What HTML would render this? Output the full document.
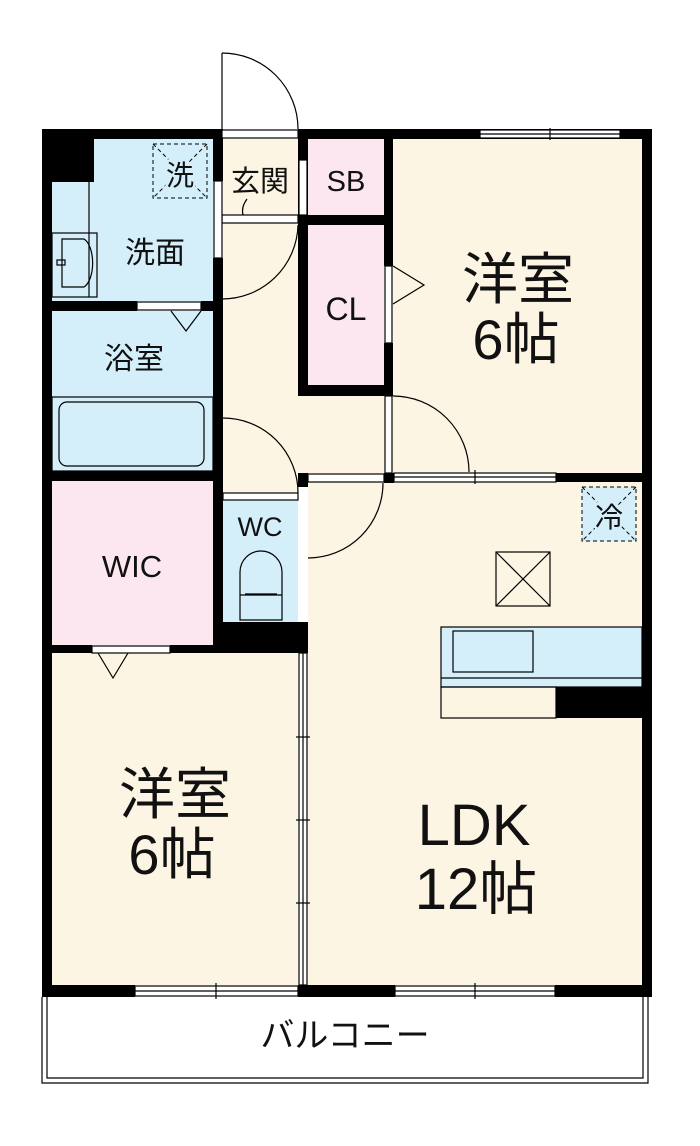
<!DOCTYPE html>
<html><head><meta charset="utf-8"><style>
html,body{margin:0;padding:0;background:#fff;}
svg{display:block;}
text{font-family:"Liberation Sans","Noto Sans CJK JP",sans-serif;fill:#111;}
</style></head><body>
<svg width="700" height="1146" viewBox="0 0 700 1146" xmlns="http://www.w3.org/2000/svg">
<rect x="52" y="139" width="161" height="162" fill="#d4eefa"/>
<rect x="52" y="311" width="161" height="160" fill="#d4eefa"/>
<rect x="52" y="481" width="161" height="164" fill="#fce6ef"/>
<rect x="223" y="139" width="75" height="360" fill="#fdf5e3"/>
<rect x="308" y="139" width="76" height="76" fill="#fce6ef"/>
<rect x="308" y="225" width="76" height="160" fill="#fce6ef"/>
<rect x="393" y="139" width="249" height="334" fill="#fdf5e3"/>
<rect x="223" y="395" width="170" height="78" fill="#fdf5e3"/>
<rect x="223" y="499" width="75" height="123" fill="#d4eefa"/>
<rect x="308" y="482" width="334" height="503" fill="#fdf5e3"/>
<rect x="52" y="653" width="246" height="332" fill="#fdf5e3"/>

<g fill="#000">
<rect x="42" y="129" width="180" height="10"/>
<rect x="298" y="129" width="354" height="10"/>
<rect x="42" y="129" width="10" height="868"/>
<rect x="642" y="129" width="10" height="868"/>
<rect x="42" y="129" width="52" height="53"/>
<rect x="213" y="129" width="10" height="52"/>
<rect x="213" y="258" width="10" height="390"/>
<rect x="298" y="129" width="10" height="267"/>
<rect x="384" y="129" width="9" height="137"/>
<rect x="384" y="343" width="9" height="53"/>
<rect x="298" y="215" width="95" height="10"/>
<rect x="298" y="385" width="95" height="11"/>
<rect x="42" y="301" width="95" height="10"/>
<rect x="201" y="301" width="22" height="10"/>
<rect x="42" y="471" width="181" height="10"/>
<rect x="298" y="473" width="10" height="10"/>
<rect x="384" y="473" width="10" height="10"/>
<rect x="556" y="473" width="96" height="9"/>
<rect x="213" y="622" width="95" height="31"/>
<rect x="42" y="645" width="50" height="8"/>
<rect x="170" y="645" width="50" height="8"/>
<rect x="298" y="482" width="10" height="5"/>
<rect x="42" y="985" width="93" height="12"/>
<rect x="298" y="985" width="97" height="12"/>
<rect x="555" y="985" width="97" height="12"/>
<rect x="556" y="687" width="86" height="31"/>
</g>
<g fill="none" stroke="#000" stroke-width="1.2">
<rect x="480" y="130" width="140" height="8" fill="#fff"/>
<line x1="480" y1="134" x2="620" y2="134"/><line x1="550" y1="128" x2="550" y2="140"/>
<rect x="222" y="130" width="76" height="8" fill="#fff"/>
<line x1="222" y1="53" x2="222" y2="130"/>
<path d="M222 53 A76 76 0 0 1 298 129"/>
<rect x="222" y="215" width="76" height="8" fill="#fff"/>
<path d="M243 215 q-2 -8 4 -16"/>
<rect x="299" y="160" width="8" height="55" fill="#fff"/>
<rect x="214" y="181" width="8" height="77" fill="#fff"/>
<path d="M298 225 A76 76 0 0 1 222 299"/>
<rect x="137" y="302" width="64" height="8" fill="#fff"/>
<path d="M171 311 L186 331 L201 311"/>
<path d="M223 418 A75 75 0 0 1 298 493"/>
<rect x="385" y="266" width="7" height="77" fill="#fff"/>
<path d="M393 266 L424 285 L393 304"/>
<rect x="385" y="396" width="7" height="77" fill="#fff"/>
<path d="M393 396 A76 76 0 0 1 469 472"/>
<rect x="308" y="474" width="76" height="8" fill="#fff"/>
<rect x="394" y="473" width="162" height="9" fill="#fff"/>
<line x1="394" y1="477" x2="556" y2="477"/>
<line x1="475" y1="470" x2="475" y2="484"/>
<path d="M383 483 A75 75 0 0 1 308 558"/>
<rect x="223" y="493" width="75" height="7" fill="#fff"/>
<path d="M240 620 L240 572 A21 21 0 0 1 282 572 L282 620 Z" fill="#d4eefa"/>
<line x1="240" y1="595" x2="282" y2="595"/><line x1="245" y1="594" x2="277" y2="594"/>
<rect x="52" y="233" width="45" height="64" fill="#d4eefa"/>
<path d="M62 239 h22 a12 25 0 0 1 0 48 h-22 z"/>
<rect x="57" y="260" width="8" height="5"/>
<line x1="89" y1="182" x2="89" y2="297"/>
<rect x="52" y="397" width="161" height="74"/>
<rect x="59" y="402" width="145" height="64" rx="8"/>
<rect x="92" y="646" width="78" height="7" fill="#fff"/>
<path d="M98 653 L113 678 L128 653"/>
<rect x="299" y="653" width="8" height="332" fill="#fff"/>
<line x1="303" y1="653" x2="303" y2="985"/>
<line x1="296" y1="737" x2="310" y2="737"/><line x1="296" y1="820" x2="310" y2="820"/><line x1="296" y1="903" x2="310" y2="903"/>
<rect x="135" y="986" width="163" height="10" fill="#fff"/><line x1="135" y1="991" x2="298" y2="991"/><line x1="216" y1="983" x2="216" y2="999"/>
<rect x="395" y="986" width="160" height="10" fill="#fff"/><line x1="395" y1="991" x2="555" y2="991"/><line x1="475" y1="983" x2="475" y2="999"/>
<rect x="441" y="627" width="201" height="60" fill="#d4eefa"/>
<line x1="441" y1="678" x2="642" y2="678"/>
<rect x="453" y="631" width="80" height="41"/>
<rect x="441" y="687" width="115" height="31"/>
<rect x="496" y="552" width="54" height="54"/>
<line x1="496" y1="552" x2="550" y2="606"/><line x1="550" y1="552" x2="496" y2="606"/>
<path d="M42 997 V1083 H648 V997"/>
<path d="M47 997 V1078 H643 V997"/>
</g>
<g fill="#d4eefa" stroke="#000" stroke-width="1" stroke-dasharray="4,3">
<rect x="582" y="487" width="54" height="54"/>
<line x1="582" y1="487" x2="636" y2="541"/><line x1="636" y1="487" x2="582" y2="541"/>
<rect x="153" y="144" width="54" height="54"/>
<line x1="153" y1="144" x2="207" y2="198"/><line x1="207" y1="144" x2="153" y2="198"/>
</g>
<g text-anchor="middle">
<text x="609" y="527" font-size="28" stroke="#d4eefa" stroke-width="5" paint-order="stroke">冷</text>
<text x="180" y="185" font-size="28" stroke="#d4eefa" stroke-width="5" paint-order="stroke">洗</text>
<text x="155" y="263" font-size="30">洗面</text>
<text x="134" y="369" font-size="30">浴室</text>
<text x="260" y="191" font-size="29">玄関</text>
<text x="346" y="191" font-size="29">SB</text>
<text x="346" y="320" font-size="32">CL</text>
<text x="260" y="536" font-size="27">WC</text>
<text x="132" y="577" font-size="31">WIC</text>
<text x="518" y="299" font-size="56">洋室</text>
<text x="516" y="359" font-size="56">6帖</text>
<text x="175" y="814" font-size="56">洋室</text>
<text x="172" y="874" font-size="56">6帖</text>
<text x="474" y="845" font-size="58">LDK</text>
<text x="476" y="909" font-size="58">12帖</text>
<text x="345" y="1047" font-size="34">バルコニー</text>
</g>
</svg>
</body></html>
